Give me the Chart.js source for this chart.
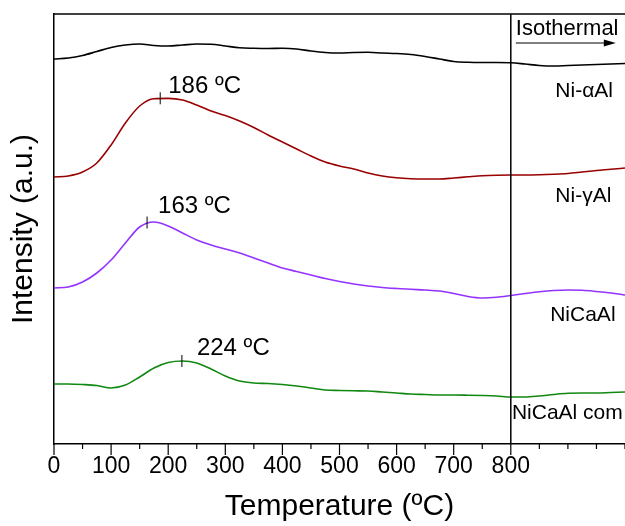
<!DOCTYPE html>
<html>
<head>
<meta charset="utf-8">
<script src="https://cdn.jsdelivr.net/npm/chart.js@4"></script>
<style>
  html, body { margin: 0; padding: 0; background: #fff; }
  #wrap { width: 625px; height: 526px; }
</style>
</head>
<body>
<div id="wrap"><canvas id="tpr"></canvas></div>
<script>
// temperatures (ºC), shared by every curve
const temps = [0, 25, 50, 75, 100, 125, 150, 175, 200, 225, 250, 275, 300, 325, 350, 375, 400, 425, 450, 475,
  500, 525, 550, 575, 600, 625, 650, 675, 700, 725, 750, 775, 800, 825, 850, 875, 900, 925, 950, 975, 1000];

// intensities (a.u., stacked offsets)
const niAlfa = [385, 386, 388.5, 392.5, 396.5, 399, 400, 398.5, 398, 399, 400, 399.8, 398, 396.2, 395.7, 395.5, 395.7, 395, 393, 391.5,
  391, 391.5, 391.7, 391, 390.5, 389.5, 387.5, 385, 382.5, 381.7, 381.5, 381.5, 381.3, 380, 378.5, 378, 378.5, 379, 379.5, 380, 380.5];
const niGamma = [267, 268, 272, 281, 299, 321, 338, 345.3, 345.6, 344, 339, 333, 328.5, 323, 316.5, 309, 302, 295, 288, 282,
  278, 275, 271, 268, 266.2, 265.3, 265, 265, 266, 267.2, 268.3, 268.8, 269, 269, 269.2, 269.7, 270.5, 272, 273.5, 274.7, 276];
const niCaAl = [156, 157, 162, 171, 184, 201, 217, 222, 218, 211, 204, 199, 195, 191, 186, 181, 176, 172.5, 169, 165.5,
  162.5, 160, 158, 156.5, 155.5, 154.7, 154, 153, 150.5, 147.5, 146, 146.7, 148.5, 150.5, 152.3, 153.5, 154, 153.7, 152.5, 151, 149];
const niCaAlCom = [60, 60, 59.5, 58.5, 56, 59, 67, 76, 81.5, 83, 81, 75, 68, 63, 61, 60.5, 59.5, 58, 56, 54,
  53.5, 53.2, 53, 52, 51, 50, 49.5, 49, 49, 48.8, 48.5, 48, 47, 47, 48, 49.5, 50.7, 51, 51, 51.5, 52];

const seriesNoms = ['Ni-\u03B1Al', 'Ni-\u03B3Al', 'NiCaAl', 'NiCaAl com'];
const couleurs = ['#000000', '#990000', '#9433FF', '#118811'];

// peak maxima (ºC) and the curve level there
const picTemps = [186, 163, 224];
const picNiveaux = [345.7, 221.5, 83];

const xTicks = [0, 100, 200, 300, 400, 500, 600, 700, 800];
const xMax = 1000;
const tempIso = 800;

const police = '"Liberation Sans", Arial, sans-serif';

const decor = {
  id: 'decor',
  afterDatasetsDraw(chart) {
    const { ctx, chartArea: ca, scales: { x, y } } = chart;
    ctx.save();
    ctx.strokeStyle = '#000';
    ctx.fillStyle = '#000';

    // top frame line
    ctx.lineWidth = 1.5;
    ctx.beginPath();
    ctx.moveTo(ca.left, ca.top);
    ctx.lineTo(ca.right, ca.top);
    ctx.stroke();

    // isothermal boundary
    const xIso = x.getPixelForValue(tempIso);
    ctx.beginPath();
    ctx.moveTo(xIso, ca.top);
    ctx.lineTo(xIso, ca.bottom);
    ctx.stroke();

    // x tick marks (major every 100 up to 800, minor in between)
    ctx.lineWidth = 1.2;
    for (let v = 0; v <= xMax; v += 50) {
      const px = x.getPixelForValue(v);
      const longue = xTicks.includes(v) ? 11 : 5;
      ctx.beginPath();
      ctx.moveTo(px, ca.bottom);
      ctx.lineTo(px, ca.bottom + longue);
      ctx.stroke();
    }

    // peak markers and labels
    const decal = [[8, -5], [11, -10], [15, -6]];
    ctx.font = '24px ' + police;
    ctx.textAlign = 'left';
    ctx.textBaseline = 'alphabetic';
    ctx.lineWidth = 1;
    picTemps.forEach((t, i) => {
      const px = x.getPixelForValue(t);
      const py = y.getPixelForValue(picNiveaux[i]);
      ctx.beginPath();
      ctx.moveTo(px, py - 6);
      ctx.lineTo(px, py + 6);
      ctx.stroke();
      ctx.fillText(t + ' \u00BAC', px + decal[i][0], py + decal[i][1]);
    });

    // series names at the right
    const posNoms = [[878, 347], [878, 242], [869, 123], [802, 25]];
    ctx.font = '21px ' + police;
    seriesNoms.forEach((n, i) => {
      ctx.fillText(n, x.getPixelForValue(posNoms[i][0]), y.getPixelForValue(posNoms[i][1]));
    });

    // "Isothermal" + arrow
    ctx.font = '22px ' + police;
    ctx.fillText('Isothermal', xIso + 5, ca.top + 21);
    const ya = ca.top + 29;
    ctx.lineWidth = 1.2;
    ctx.beginPath();
    ctx.moveTo(xIso + 5, ya);
    ctx.lineTo(xIso + 96, ya);
    ctx.stroke();
    ctx.beginPath();
    ctx.moveTo(xIso + 105, ya);
    ctx.lineTo(xIso + 93, ya - 3.5);
    ctx.lineTo(xIso + 93, ya + 3.5);
    ctx.closePath();
    ctx.fill();

    ctx.restore();
  }
};

const courbes = [niAlfa, niGamma, niCaAl, niCaAlCom];

new Chart(document.getElementById('tpr'), {
  type: 'line',
  data: {
    datasets: courbes.map((c, i) => ({
      label: seriesNoms[i],
      data: temps.map((t, k) => ({ x: t, y: c[k] })),
      borderColor: couleurs[i],
      borderWidth: 1.6,
      pointRadius: 0,
      cubicInterpolationMode: 'monotone',
      fill: false
    }))
  },
  options: {
    responsive: true,
    maintainAspectRatio: false,
    animation: false,
    layout: { padding: { top: 14, right: 0, bottom: 0, left: 0 } },
    plugins: { legend: { display: false }, tooltip: { enabled: false } },
    scales: {
      x: {
        type: 'linear',
        min: 0,
        max: xMax,
        afterBuildTicks: s => { s.ticks = xTicks.map(v => ({ value: v })); },
        afterFit: s => { s.height = 82; },
        ticks: {
          autoSkip: false,
          maxRotation: 0,
          padding: 9,
          color: '#000',
          font: { family: police, size: 23 }
        },
        grid: { display: false, drawTicks: false },
        border: { display: true, color: '#000', width: 1.5 },
        title: {
          display: true,
          text: 'Temperature (\u00BAC)',
          color: '#000',
          font: { family: police, size: 30 },
          padding: { top: 0, bottom: 1 }
        }
      },
      y: {
        min: 0,
        max: 430,
        afterFit: s => { s.width = 54; },
        ticks: { display: false },
        grid: { display: false, drawTicks: false },
        border: { display: true, color: '#000', width: 1.5 },
        title: {
          display: true,
          text: 'Intensity (a.u.)',
          color: '#000',
          font: { family: police, size: 30 },
          padding: { top: 6, bottom: 0 }
        }
      }
    }
  },
  plugins: [decor]
});
</script>
</body>
</html>
